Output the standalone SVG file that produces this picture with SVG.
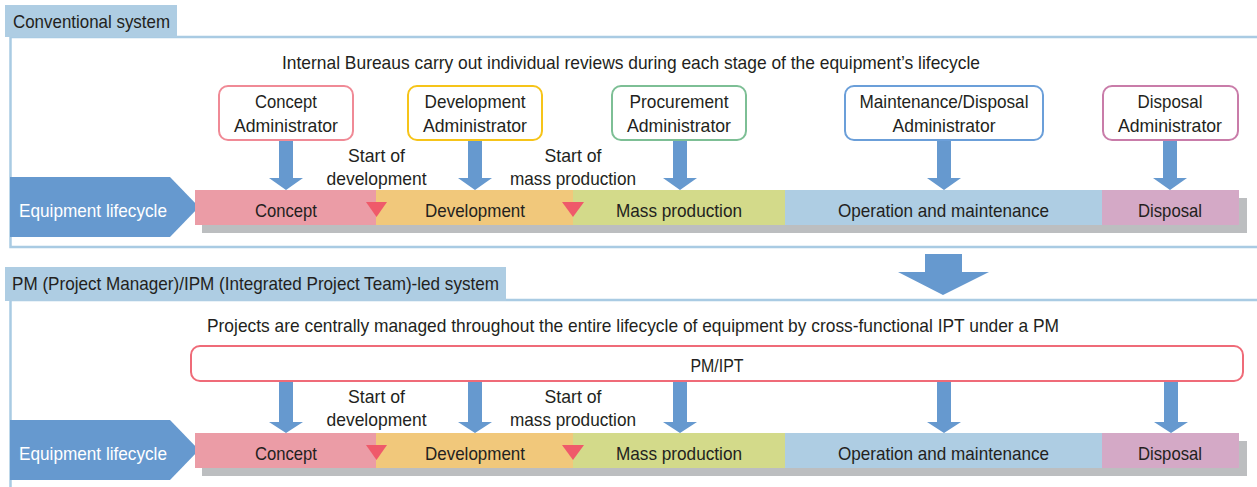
<svg xmlns="http://www.w3.org/2000/svg" width="1257" height="487" viewBox="0 0 1257 487">
<defs>
<style>
text{font-family:"Liberation Sans",Arial,sans-serif;font-size:19px;fill:#231f20;}
.c{text-anchor:middle;}
.w{fill:#ffffff;}
.frame{fill:none;stroke:#a9cbe3;stroke-width:2.5;}
.tab{fill:#aecde3;}
.box{fill:#ffffff;stroke-width:2;}
.arr{fill:#6699cf;}
.shadow{fill:#bcbec0;}
.tri{fill:#ef5a6a;}
</style>
<path id="arrDown" d="M-7,0 H7 V37 H17 L0,49 L-17,37 H-7 Z"/>
<path id="arrDown2" d="M-7,0 H7 V40 H17 L0,51 L-17,40 H-7 Z"/>
</defs>

<!-- Section 1 frame -->
<g id="section1">
<path class="frame" d="M1258,37 H10.5 V247 H1258"/>
<rect class="tab" x="5" y="5" width="172" height="32"/>
<text x="13" y="28" textLength="157" lengthAdjust="spacingAndGlyphs">Conventional system</text>
<text class="c" x="631" y="69" textLength="698" lengthAdjust="spacingAndGlyphs">Internal Bureaus carry out individual reviews during each stage of the equipment’s lifecycle</text>
</g>

<!-- Section 2 frame -->
<g id="section2">
<path class="frame" d="M1258,300 H10.5 V488"/>
<rect class="tab" x="5" y="267" width="501" height="34"/>
<text x="12" y="290" textLength="487" lengthAdjust="spacingAndGlyphs">PM (Project Manager)/IPM (Integrated Project Team)-led system</text>
<text class="c" x="633" y="332" textLength="852" lengthAdjust="spacingAndGlyphs">Projects are centrally managed throughout the entire lifecycle of equipment by cross-functional IPT under a PM</text>
</g>

<!-- Admin nodes -->
<g id="concept-admin">
<rect class="box" x="219" y="86" width="134" height="54" rx="9" stroke="#f08a96"/>
<text class="c" x="286" y="108" textLength="62" lengthAdjust="spacingAndGlyphs">Concept</text>
<text class="c" x="286" y="132" textLength="104" lengthAdjust="spacingAndGlyphs">Administrator</text>
</g>
<g id="development-admin">
<rect class="box" x="408" y="86" width="134" height="54" rx="9" stroke="#f6c419"/>
<text class="c" x="475" y="108" textLength="101" lengthAdjust="spacingAndGlyphs">Development</text>
<text class="c" x="475" y="132" textLength="104" lengthAdjust="spacingAndGlyphs">Administrator</text>
</g>
<g id="procurement-admin">
<rect class="box" x="612" y="86" width="134" height="54" rx="9" stroke="#7dbf95"/>
<text class="c" x="679" y="108" textLength="99" lengthAdjust="spacingAndGlyphs">Procurement</text>
<text class="c" x="679" y="132" textLength="104" lengthAdjust="spacingAndGlyphs">Administrator</text>
</g>
<g id="maintenance-admin">
<rect class="box" x="845" y="86" width="198" height="54" rx="9" stroke="#6b9fd9"/>
<text class="c" x="944" y="108" textLength="169" lengthAdjust="spacingAndGlyphs">Maintenance/Disposal</text>
<text class="c" x="944" y="132" textLength="103" lengthAdjust="spacingAndGlyphs">Administrator</text>
</g>
<g id="disposal-admin">
<rect class="box" x="1103" y="86" width="135" height="54" rx="9" stroke="#c97ca9"/>
<text class="c" x="1170" y="108" textLength="65" lengthAdjust="spacingAndGlyphs">Disposal</text>
<text class="c" x="1170" y="132" textLength="104" lengthAdjust="spacingAndGlyphs">Administrator</text>
</g>

<!-- PM/IPT node -->
<g id="pm-ipt">
<rect class="box" x="191" y="346" width="1052" height="35" rx="9" stroke="#ef6b78"/>
<text class="c" x="717" y="372" textLength="53" lengthAdjust="spacingAndGlyphs">PM/IPT</text>
</g>

<!-- Lifecycle 1 -->
<g id="lifecycle1">
<rect class="shadow" x="202" y="198" width="1045" height="35"/>
<polygon class="arr" points="10,177 170,177 199,207 170,237 10,237"/>
<text class="w" x="19" y="217" textLength="148" lengthAdjust="spacingAndGlyphs">Equipment lifecycle</text>
<rect x="195" y="190" width="181" height="35" fill="#eb9ca6"/>
<rect x="376" y="190" width="197" height="35" fill="#f1c87b"/>
<rect x="573" y="190" width="212" height="35" fill="#d3da8a"/>
<rect x="785" y="190" width="317" height="35" fill="#aecde3"/>
<rect x="1102" y="190" width="137" height="35" fill="#d4a9c6"/>
<text class="c" x="286" y="217" textLength="62" lengthAdjust="spacingAndGlyphs">Concept</text>
<text class="c" x="475" y="217" textLength="100" lengthAdjust="spacingAndGlyphs">Development</text>
<text class="c" x="679" y="217" textLength="126" lengthAdjust="spacingAndGlyphs">Mass production</text>
<text class="c" x="943.5" y="217" textLength="211" lengthAdjust="spacingAndGlyphs">Operation and maintenance</text>
<text class="c" x="1170" y="217" textLength="64" lengthAdjust="spacingAndGlyphs">Disposal</text>
<polygon class="tri" points="366,202 387,202 376.5,217"/>
<polygon class="tri" points="562,202 584,202 573,217"/>
<text class="c" x="376.5" y="162" textLength="57" lengthAdjust="spacingAndGlyphs">Start of</text>
<text class="c" x="376.5" y="185" textLength="100" lengthAdjust="spacingAndGlyphs">development</text>
<text class="c" x="573" y="162" textLength="57" lengthAdjust="spacingAndGlyphs">Start of</text>
<text class="c" x="573" y="185" textLength="126" lengthAdjust="spacingAndGlyphs">mass production</text>
</g>

<!-- Lifecycle 2 -->
<g id="lifecycle2">
<rect class="shadow" x="202" y="441" width="1045" height="35"/>
<polygon class="arr" points="10,420 170,420 199,450 170,480 10,480"/>
<text class="w" x="19" y="460" textLength="148" lengthAdjust="spacingAndGlyphs">Equipment lifecycle</text>
<rect x="195" y="433" width="181" height="35" fill="#eb9ca6"/>
<rect x="376" y="433" width="197" height="35" fill="#f1c87b"/>
<rect x="573" y="433" width="212" height="35" fill="#d3da8a"/>
<rect x="785" y="433" width="317" height="35" fill="#aecde3"/>
<rect x="1102" y="433" width="137" height="35" fill="#d4a9c6"/>
<text class="c" x="286" y="460" textLength="62" lengthAdjust="spacingAndGlyphs">Concept</text>
<text class="c" x="475" y="460" textLength="100" lengthAdjust="spacingAndGlyphs">Development</text>
<text class="c" x="679" y="460" textLength="126" lengthAdjust="spacingAndGlyphs">Mass production</text>
<text class="c" x="943.5" y="460" textLength="211" lengthAdjust="spacingAndGlyphs">Operation and maintenance</text>
<text class="c" x="1170" y="460" textLength="64" lengthAdjust="spacingAndGlyphs">Disposal</text>
<polygon class="tri" points="366,445 387,445 376.5,460"/>
<polygon class="tri" points="562,445 584,445 573,460"/>
<text class="c" x="376.5" y="403" textLength="57" lengthAdjust="spacingAndGlyphs">Start of</text>
<text class="c" x="376.5" y="426" textLength="100" lengthAdjust="spacingAndGlyphs">development</text>
<text class="c" x="573" y="403" textLength="57" lengthAdjust="spacingAndGlyphs">Start of</text>
<text class="c" x="573" y="426" textLength="126" lengthAdjust="spacingAndGlyphs">mass production</text>
</g>

<!-- Connectors -->
<g id="connectors" class="arr">
<use href="#arrDown" x="286" y="141"/>
<use href="#arrDown" x="475" y="141"/>
<use href="#arrDown" x="680" y="141"/>
<use href="#arrDown" x="944" y="141"/>
<use href="#arrDown" x="1170" y="141"/>
<use href="#arrDown2" x="286" y="382"/>
<use href="#arrDown2" x="475" y="382"/>
<use href="#arrDown2" x="680" y="382"/>
<use href="#arrDown2" x="944" y="382"/>
<use href="#arrDown2" x="1171" y="382"/>
<path d="M925,254 H962 V272 H989 L943,295 L898,272 H925 Z"/>
</g>
</svg>
